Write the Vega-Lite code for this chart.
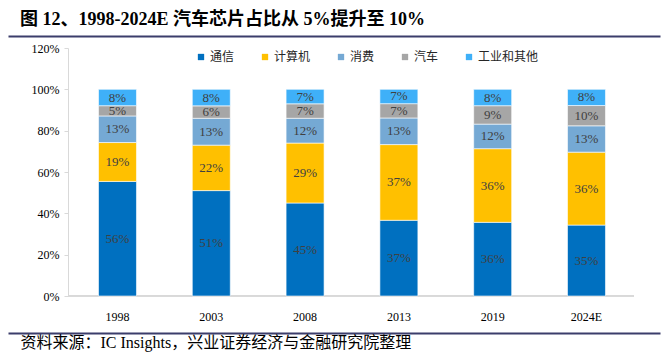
{
  "$schema": "https://vega.github.io/schema/vega-lite/v6.json",
  "autosize": {"type": "none"},
  "width": 652,
  "height": 248,
  "padding": {"left": 8, "top": 48, "right": 6, "bottom": 58},
  "background": "white",
  "title": {
    "text": "图 12、1998-2024E 汽车芯片占比从 5%提升至 10%",
    "anchor": "start",
    "frame": "group",
    "font": "Liberation Serif, Noto Sans CJK SC",
    "fontSize": 18,
    "fontWeight": "bold",
    "color": "#000000",
    "dx": 12,
    "offset": 7
  },
  "data": {
    "values": [
      {"year": "1998", "cat": "通信", "v": 0.56},
      {"year": "1998", "cat": "计算机", "v": 0.19},
      {"year": "1998", "cat": "消费", "v": 0.13},
      {"year": "1998", "cat": "汽车", "v": 0.05},
      {"year": "1998", "cat": "工业和其他", "v": 0.08},
      {"year": "2003", "cat": "通信", "v": 0.51},
      {"year": "2003", "cat": "计算机", "v": 0.22},
      {"year": "2003", "cat": "消费", "v": 0.13},
      {"year": "2003", "cat": "汽车", "v": 0.06},
      {"year": "2003", "cat": "工业和其他", "v": 0.08},
      {"year": "2008", "cat": "通信", "v": 0.45},
      {"year": "2008", "cat": "计算机", "v": 0.29},
      {"year": "2008", "cat": "消费", "v": 0.12},
      {"year": "2008", "cat": "汽车", "v": 0.07},
      {"year": "2008", "cat": "工业和其他", "v": 0.07},
      {"year": "2013", "cat": "通信", "v": 0.37},
      {"year": "2013", "cat": "计算机", "v": 0.37},
      {"year": "2013", "cat": "消费", "v": 0.13},
      {"year": "2013", "cat": "汽车", "v": 0.07},
      {"year": "2013", "cat": "工业和其他", "v": 0.07},
      {"year": "2019", "cat": "通信", "v": 0.36},
      {"year": "2019", "cat": "计算机", "v": 0.36},
      {"year": "2019", "cat": "消费", "v": 0.12},
      {"year": "2019", "cat": "汽车", "v": 0.09},
      {"year": "2019", "cat": "工业和其他", "v": 0.08},
      {"year": "2024E", "cat": "通信", "v": 0.35},
      {"year": "2024E", "cat": "计算机", "v": 0.36},
      {"year": "2024E", "cat": "消费", "v": 0.13},
      {"year": "2024E", "cat": "汽车", "v": 0.10},
      {"year": "2024E", "cat": "工业和其他", "v": 0.08}
    ]
  },
  "transform": [
    {"stack": "v", "groupby": ["year"], "offset": "normalize", "as": ["y0", "y1"]}
  ],
  "layer": [
    {
      "mark": {"type": "rule", "color": "#d9d9d9", "strokeWidth": 1},
      "encoding": {
        "y": {"datum": 0, "type": "quantitative"},
        "x": {"datum": "1998", "type": "nominal", "bandPosition": -0.79, "axis": null},
        "x2": {"datum": "2024E", "bandPosition": 1.74}
      }
    },
    {
      "mark": {"type": "bar", "stroke": "#ffffff", "strokeWidth": 0.6},
      "encoding": {
        "x": {
          "field": "year", "type": "nominal", "sort": null,
          "scale": {"domain": ["1998", "2003", "2008", "2013", "2019", "2024E"], "paddingInner": 0.595, "paddingOuter": 0.773, "align": 0.624},
          "axis": {
            "orient": "bottom", "offset": 37,
            "domainColor": "#3b3d6b", "domainWidth": 2,
            "ticks": false, "labelPadding": -22, "labelAngle": 0,
            "labelFont": "Liberation Serif", "labelFontSize": 12, "labelColor": "#000000",
            "title": "资料来源：IC Insights，兴业证券经济与金融研究院整理",
            "titleFont": "Liberation Serif, Noto Sans CJK SC", "titleFontSize": 16,
            "titleFontWeight": "normal", "titleColor": "#000000",
            "titleAnchor": "start", "titleAlign": "left", "titleBaseline": "middle",
            "titleX": 12, "titleY": 9
          }
        },
        "y": {
          "field": "y0", "type": "quantitative",
          "scale": {"domain": [0, 1.2], "nice": false, "zero": true},
          "axis": {
            "values": [0, 0.2, 0.4, 0.6, 0.8, 1.0, 1.2], "format": ".0%",
            "offset": -60, "grid": false,
            "domainColor": "#d9d9d9", "tickColor": "#d9d9d9", "tickSize": 4,
            "labelFont": "Liberation Serif", "labelFontSize": 12, "labelColor": "#000000",
            "labelPadding": 5, "title": null
          }
        },
        "y2": {"field": "y1"},
        "color": {
          "field": "cat", "type": "nominal",
          "scale": {
            "domain": ["通信", "计算机", "消费", "汽车", "工业和其他"],
            "range": ["#0070c0", "#ffc000", "#75a9d4", "#a6a6a6", "#3fb0f8"]
          },
          "legend": {
            "orient": "none", "direction": "horizontal", "columns": 5,
            "legendX": 187, "legendY": 3, "title": null,
            "symbolType": "square", "symbolSize": 40, "symbolStrokeWidth": 0,
            "labelFont": "Noto Sans CJK SC", "labelFontSize": 12, "labelColor": "#262626",
            "labelOffset": 3, "columnPadding": 24
          }
        }
      }
    },
    {
      "transform": [{"fold": ["y0", "y1"], "as": ["k", "yy"]}],
      "mark": {"type": "text", "font": "Liberation Serif", "fontSize": 13, "color": "#404040", "baseline": "middle"},
      "encoding": {
        "x": {
          "field": "year", "type": "nominal", "sort": null,
          "axis": {
            "orient": "top", "offset": 12, "domainColor": "#3b3d6b", "domainWidth": 2,
            "ticks": false, "labels": false, "title": null
          }
        },
        "y": {"aggregate": "mean", "field": "yy", "type": "quantitative"},
        "text": {"field": "v", "type": "quantitative", "format": ".0%"},
        "detail": {"field": "cat"}
      }
    }
  ],
  "resolve": {"axis": {"x": "independent"}},
  "config": {"view": {"stroke": null}}
}
